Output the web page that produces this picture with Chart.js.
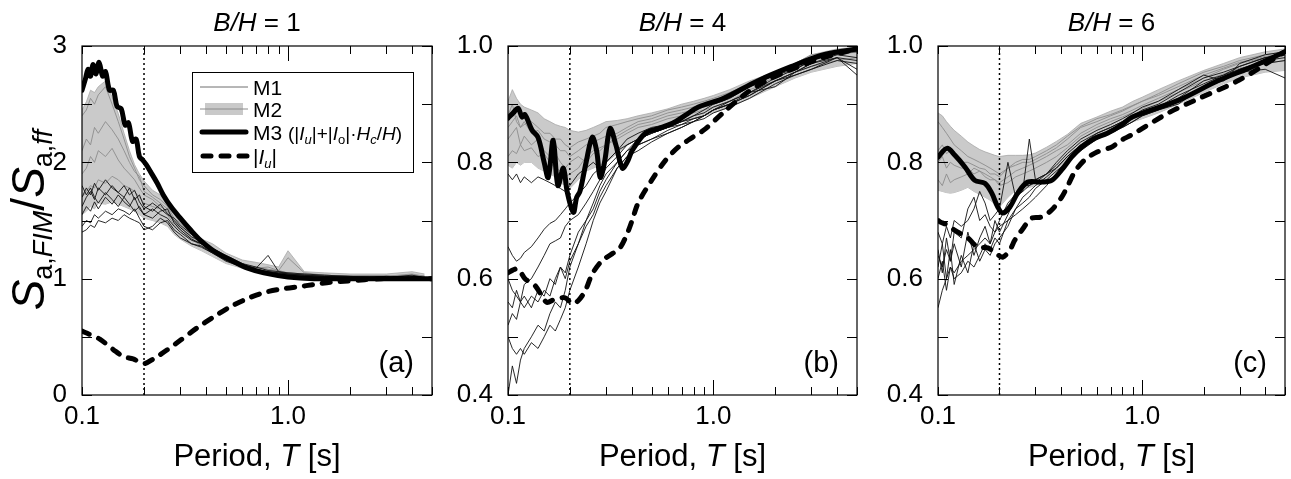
<!DOCTYPE html>
<html>
<head>
<meta charset="utf-8">
<title>Sa,FIM / Sa,ff vs period</title>
<script src="https://cdn.jsdelivr.net/npm/chart.js@4.4.0/dist/chart.umd.min.js"></script>
<style>
  html, body { margin: 0; padding: 0; background: #fff; }
  #wrap { position: relative; width: 1291px; height: 479px; overflow: hidden; }
  canvas { position: absolute; top: 0; }
</style>
</head>
<body>
<div id="wrap">
  <canvas id="chartA" width="455" height="479" style="left:0px"></canvas>
  <canvas id="chartB" width="430" height="479" style="left:455px"></canvas>
  <canvas id="chartC" width="406" height="479" style="left:885px"></canvas>
</div>
<script>
// ---- shared ----
const FONT = '"Liberation Sans", Arial, sans-serif';
const xTickValues = [0.1, 0.2, 0.3, 0.4, 0.5, 0.6, 0.7, 0.8, 0.9, 1, 2, 3, 4, 5];
const markPeriod = 0.2;
const yTicksA = [0, 0.5, 1, 1.5, 2, 2.5, 3];
const yTicksBC = [0.4, 0.5, 0.6, 0.7, 0.8, 0.9, 1.0];

// period grid used by the M1 / M2 records
const periodsA = [0.100,0.105,0.110,0.115,0.120,0.130,0.140,0.150,0.160,0.170, 0.180,0.190,0.200,0.220,0.240,0.260,0.280,0.300,0.340,0.380, 0.430,0.500,0.600,0.700,0.800,0.900,1.000,1.200,1.500,2.000, 2.500,3.000,4.000,4.600];
const periodsBC = [0.100,0.105,0.110,0.115,0.120,0.130,0.140,0.150,0.160,0.170, 0.180,0.190,0.200,0.220,0.240,0.260,0.280,0.300,0.340,0.380, 0.430,0.500,0.600,0.700,0.800,0.900,1.000,1.200,1.500,2.000, 2.500,3.000,4.000,5.000];

// ---- panel (a) B/H = 1 ----
const m1A = [
  [1.45,1.50,1.48,1.55,1.52,1.58,1.55,1.60,1.58,1.55, 1.60,1.52,1.45,1.42,1.48,1.50,1.42,1.38,1.30,1.28, 1.22,1.16,1.10,1.07,1.05,1.04,1.03,1.02,1.01,1.01, 1.00,1.01,1.01,1.00],
  [1.55,1.62,1.58,1.66,1.60,1.70,1.64,1.72,1.66,1.62, 1.70,1.60,1.55,1.52,1.58,1.60,1.48,1.42,1.34,1.30, 1.24,1.18,1.12,1.09,1.20,1.06,1.04,1.03,1.02,1.01, 1.01,1.01,1.02,1.00],
  [1.62,1.70,1.75,1.68,1.78,1.72,1.80,1.74,1.70,1.78, 1.68,1.72,1.62,1.58,1.64,1.56,1.50,1.44,1.36,1.32, 1.25,1.18,1.12,1.08,1.06,1.05,1.04,1.03,1.02,1.02, 1.01,1.01,1.03,1.01],
  [1.70,1.78,1.72,1.82,1.76,1.85,1.78,1.74,1.80,1.72, 1.76,1.66,1.60,1.65,1.60,1.55,1.52,1.46,1.38,1.33, 1.26,1.20,1.13,1.10,1.07,1.06,1.05,1.04,1.03,1.02, 1.02,1.02,1.01,1.01],
  [1.40,1.42,1.46,1.44,1.50,1.48,1.52,1.50,1.55,1.52, 1.50,1.48,1.42,1.45,1.52,1.48,1.40,1.35,1.30,1.27, 1.22,1.15,1.10,1.06,1.05,1.04,1.03,1.02,1.01,1.01, 1.00,1.00,1.01,1.00],
  [1.80,1.72,1.78,1.70,1.65,1.74,1.68,1.62,1.70,1.64, 1.58,1.62,1.55,1.60,1.55,1.52,1.45,1.40,1.33,1.30, 1.24,1.17,1.11,1.08,1.06,1.05,1.04,1.03,1.02,1.01, 1.01,1.02,1.01,1.00]
];
const m2A = [
  [2.40,2.45,2.55,2.50,2.58,2.65,2.50,2.35,2.20,2.05, 1.95,1.85,1.80,1.72,1.68,1.62,1.52,1.48,1.38,1.30, 1.24,1.18,1.12,1.10,1.08,1.06,1.05,1.04,1.03,1.02, 1.02,1.02,1.03,1.02],
  [2.10,2.20,2.15,2.30,2.25,2.35,2.28,2.20,2.10,2.00, 1.92,1.88,1.75,1.70,1.65,1.60,1.50,1.45,1.36,1.30, 1.25,1.17,1.12,1.09,1.08,1.07,1.05,1.04,1.03,1.02, 1.02,1.02,1.03,1.02],
  [1.90,1.95,2.05,2.00,2.10,2.05,2.12,2.02,1.95,1.90, 1.85,1.78,1.72,1.68,1.62,1.58,1.48,1.44,1.35,1.28, 1.24,1.16,1.11,1.09,1.10,1.07,1.18,1.05,1.03,1.02, 1.02,1.02,1.04,1.02],
  [1.70,1.75,1.80,1.78,1.85,1.82,1.88,1.85,1.80,1.78, 1.75,1.70,1.65,1.62,1.60,1.55,1.46,1.42,1.34,1.28, 1.22,1.16,1.11,1.08,1.07,1.06,1.05,1.04,1.03,1.02, 1.02,1.02,1.03,1.02]
];
const m2HighA = [2.45,2.52,2.62,2.60,2.65,2.70,2.56,2.42,2.25,2.10, 1.98,1.90,1.84,1.76,1.72,1.66,1.58,1.52,1.42,1.34, 1.30,1.22,1.16,1.14,1.12,1.10,1.24,1.06,1.05,1.04, 1.04,1.04,1.06,1.04];
const m2LowA = [1.55,1.58,1.62,1.60,1.65,1.64,1.66,1.64,1.62,1.60, 1.58,1.55,1.52,1.50,1.48,1.45,1.38,1.34,1.28,1.24, 1.19,1.13,1.09,1.06,1.05,1.04,1.03,1.02,1.01,1.01, 1.00,1.00,1.01,1.00];
const m3PeriodsA = [0.100,0.104,0.107,0.110,0.113,0.117,0.121,0.126,0.130,0.136,0.142,0.148,0.155,0.162,0.168,0.176,0.183,0.190,0.197,0.205,0.215,0.232,0.248,0.270,0.300,0.336,0.376,0.435,0.527,0.637,0.763,1.000,1.340,2.000,5.000];
const m3A = [2.62,2.72,2.80,2.74,2.84,2.76,2.86,2.74,2.78,2.62,2.62,2.48,2.46,2.32,2.34,2.18,2.20,2.05,2.02,1.98,1.92,1.82,1.72,1.62,1.52,1.42,1.33,1.24,1.16,1.09,1.05,1.015,1.0,1.0,1.0];
const iuPeriodsA = [0.100,0.106,0.122,0.142,0.159,0.177,0.200,0.222,0.260,0.300,0.364,0.435,0.527,0.637,0.763,0.922,1.120,1.340,1.620,1.960,2.840,5.000];
const iuA = [0.55,0.53,0.48,0.39,0.33,0.31,0.27,0.31,0.39,0.47,0.58,0.67,0.76,0.83,0.88,0.91,0.93,0.95,0.97,0.98,1.0,1.0];

// ---- panel (b) B/H = 4 ----
const m1B = [
  [0.78,0.77,0.78,0.765,0.775,0.765,0.775,0.77,0.765,0.76, 0.755,0.75,0.76,0.78,0.79,0.80,0.79,0.80,0.82,0.83, 0.84,0.85,0.86,0.87,0.88,0.89,0.90,0.91,0.93,0.95, 0.96,0.975,0.99,0.995],
  [0.655,0.64,0.63,0.635,0.645,0.655,0.67,0.685,0.695,0.70, 0.71,0.72,0.73,0.745,0.76,0.78,0.79,0.80,0.82,0.84, 0.85,0.86,0.865,0.87,0.88,0.885,0.895,0.905,0.92,0.945, 0.96,0.975,0.99,0.99],
  [0.60,0.58,0.57,0.56,0.59,0.60,0.62,0.64,0.66,0.665, 0.67,0.69,0.70,0.71,0.73,0.75,0.77,0.79,0.81,0.83, 0.84,0.85,0.86,0.87,0.875,0.88,0.89,0.905,0.92,0.93, 0.955,0.97,0.98,0.96],
  [0.52,0.54,0.53,0.56,0.55,0.57,0.56,0.58,0.57,0.60, 0.62,0.61,0.64,0.68,0.70,0.72,0.75,0.77,0.80,0.82, 0.83,0.84,0.85,0.86,0.87,0.88,0.89,0.90,0.915,0.94, 0.955,0.965,0.98,0.975],
  [0.40,0.45,0.42,0.46,0.48,0.50,0.52,0.51,0.54,0.56, 0.55,0.58,0.62,0.66,0.69,0.71,0.74,0.76,0.79,0.81, 0.82,0.835,0.85,0.86,0.87,0.875,0.885,0.895,0.91,0.935, 0.95,0.96,0.975,0.97],
  [0.50,0.48,0.47,0.48,0.47,0.49,0.48,0.50,0.52,0.51, 0.53,0.55,0.58,0.62,0.66,0.70,0.73,0.75,0.79,0.81, 0.83,0.84,0.855,0.865,0.87,0.88,0.89,0.90,0.915,0.94, 0.95,0.96,0.98,0.95],
  [0.56,0.55,0.58,0.56,0.57,0.55,0.58,0.57,0.60,0.59, 0.62,0.60,0.63,0.66,0.70,0.73,0.76,0.78,0.80,0.82, 0.84,0.85,0.86,0.865,0.875,0.88,0.89,0.90,0.92,0.94, 0.955,0.97,0.985,0.98]
];
const m2B = [
  [0.88,0.90,0.87,0.86,0.87,0.85,0.855,0.84,0.835,0.83, 0.82,0.82,0.81,0.82,0.83,0.835,0.84,0.845,0.85,0.86, 0.87,0.875,0.885,0.89,0.895,0.90,0.905,0.915,0.935,0.95, 0.965,0.98,0.99,0.995],
  [0.84,0.85,0.86,0.83,0.845,0.83,0.84,0.82,0.81,0.815, 0.80,0.79,0.80,0.81,0.80,0.815,0.82,0.83,0.845,0.855, 0.865,0.87,0.88,0.885,0.89,0.895,0.90,0.91,0.93,0.945, 0.96,0.975,0.985,0.99],
  [0.81,0.82,0.815,0.83,0.82,0.825,0.81,0.815,0.80,0.79, 0.785,0.775,0.78,0.79,0.81,0.82,0.825,0.83,0.84,0.85, 0.86,0.865,0.875,0.88,0.885,0.89,0.895,0.905,0.925,0.94, 0.955,0.965,0.975,0.98],
  [0.86,0.87,0.88,0.86,0.865,0.87,0.86,0.85,0.85,0.84, 0.84,0.83,0.825,0.835,0.84,0.845,0.85,0.86,0.865,0.87, 0.875,0.88,0.89,0.895,0.90,0.905,0.91,0.92,0.935,0.955, 0.97,0.985,0.99,0.99]
];
const m2HighB = [0.905,0.925,0.91,0.90,0.895,0.89,0.885,0.875,0.87,0.865, 0.862,0.86,0.855,0.852,0.855,0.86,0.865,0.87,0.872,0.875, 0.88,0.885,0.892,0.90,0.905,0.91,0.915,0.925,0.94,0.955, 0.97,0.985,0.995,0.998];
const m2LowB = [0.795,0.79,0.80,0.795,0.80,0.80,0.79,0.785,0.78,0.775, 0.765,0.76,0.755,0.77,0.785,0.79,0.795,0.80,0.815,0.83, 0.84,0.85,0.86,0.87,0.875,0.88,0.885,0.895,0.91,0.93, 0.945,0.955,0.965,0.97];
const m3PeriodsB = [0.100,0.106,0.112,0.117,0.121,0.131,0.140,0.150,0.157,0.166,0.175,0.186,0.194,0.208,0.216,0.224,0.240,0.257,0.270,0.281,0.295,0.314,0.335,0.360,0.380,0.402,0.466,0.539,0.632,0.731,0.845,1.120,1.640,2.370,3.440,5.000];
const m3B = [0.876,0.885,0.893,0.878,0.882,0.855,0.843,0.800,0.774,0.838, 0.760,0.790,0.750,0.714,0.740,0.750,0.800,0.843,0.820,0.774, 0.800,0.858,0.830,0.790,0.800,0.820,0.850,0.858,0.867,0.881, 0.895,0.910,0.940,0.964,0.985,0.995];
const iuPeriodsB = [0.100,0.106,0.112,0.121,0.1355,0.148,0.155,0.1695,0.190,0.205,0.2195,0.2375,0.257,0.287,0.322,0.351,0.381,0.402,0.430,0.500,0.583,0.674,0.791,0.910,1.120,1.460,1.830,2.370,3.440,5.000];
const iuB = [0.610,0.615,0.617,0.600,0.588,0.567,0.559,0.565,0.567,0.557, 0.562,0.579,0.608,0.631,0.643,0.653,0.678,0.700,0.730,0.769, 0.803,0.826,0.843,0.857,0.886,0.920,0.941,0.959,0.980,0.995];

// ---- panel (c) B/H = 6 ----
const m1C = [
  [0.55,0.58,0.60,0.62,0.61,0.63,0.64,0.65,0.66,0.67, 0.66,0.68,0.69,0.70,0.71,0.72,0.73,0.74,0.76,0.78, 0.80,0.82,0.84,0.85,0.86,0.87,0.88,0.89,0.90,0.93, 0.94,0.955,0.96,0.945],
  [0.62,0.66,0.60,0.65,0.59,0.64,0.61,0.66,0.63,0.65, 0.64,0.66,0.67,0.69,0.72,0.73,0.74,0.755,0.77,0.785, 0.80,0.825,0.845,0.855,0.865,0.875,0.885,0.895,0.91,0.94, 0.95,0.96,0.975,0.98],
  [0.65,0.61,0.67,0.63,0.66,0.62,0.68,0.64,0.67,0.69, 0.66,0.70,0.68,0.71,0.74,0.76,0.76,0.77,0.78,0.79, 0.81,0.83,0.85,0.86,0.87,0.88,0.89,0.90,0.92,0.945, 0.955,0.965,0.98,0.985],
  [0.68,0.66,0.69,0.67,0.70,0.69,0.70,0.72,0.75,0.73, 0.70,0.71,0.72,0.80,0.74,0.75,0.84,0.77,0.78,0.80, 0.82,0.84,0.855,0.865,0.875,0.885,0.895,0.905,0.925,0.95, 0.94,0.97,0.985,0.99],
  [0.60,0.63,0.58,0.62,0.60,0.61,0.63,0.62,0.64,0.66, 0.65,0.67,0.66,0.70,0.72,0.74,0.75,0.76,0.775,0.79, 0.81,0.83,0.845,0.855,0.86,0.87,0.88,0.89,0.905,0.93, 0.945,0.96,0.97,0.975],
  [0.64,0.62,0.65,0.63,0.68,0.67,0.72,0.74,0.70,0.71, 0.69,0.68,0.70,0.73,0.745,0.75,0.76,0.765,0.78,0.795, 0.815,0.835,0.85,0.86,0.87,0.88,0.885,0.895,0.915,0.935, 0.95,0.965,0.98,0.985]
];
const m2C = [
  [0.87,0.86,0.85,0.84,0.83,0.82,0.81,0.805,0.80,0.795, 0.79,0.785,0.78,0.79,0.795,0.80,0.80,0.805,0.815,0.825, 0.84,0.86,0.87,0.88,0.888,0.897,0.905,0.918,0.935,0.955, 0.965,0.975,0.985,0.99],
  [0.80,0.81,0.79,0.80,0.795,0.79,0.79,0.78,0.785,0.775, 0.77,0.77,0.765,0.775,0.785,0.79,0.795,0.80,0.81,0.82, 0.83,0.85,0.865,0.875,0.882,0.89,0.898,0.91,0.925,0.945, 0.96,0.97,0.98,0.985],
  [0.77,0.76,0.78,0.765,0.77,0.775,0.78,0.79,0.785,0.78, 0.775,0.77,0.76,0.765,0.775,0.78,0.785,0.79,0.80,0.81, 0.825,0.845,0.86,0.87,0.878,0.886,0.893,0.905,0.92,0.94, 0.952,0.962,0.97,0.975],
  [0.82,0.83,0.815,0.82,0.81,0.80,0.80,0.795,0.79,0.788, 0.78,0.78,0.775,0.79,0.80,0.805,0.805,0.81,0.82,0.83, 0.845,0.862,0.875,0.882,0.89,0.898,0.905,0.915,0.93,0.95, 0.962,0.972,0.982,0.987]
];
const m2HighC = [0.885,0.88,0.87,0.862,0.855,0.845,0.835,0.828,0.822,0.818, 0.815,0.812,0.81,0.812,0.812,0.812,0.813,0.816,0.826,0.836, 0.848,0.867,0.878,0.888,0.895,0.905,0.912,0.925,0.94,0.958, 0.97,0.98,0.99,0.995];
const m2LowC = [0.752,0.75,0.748,0.747,0.748,0.752,0.757,0.75,0.745,0.74, 0.735,0.728,0.723,0.74,0.752,0.755,0.757,0.76,0.769,0.785, 0.80,0.822,0.84,0.852,0.862,0.87,0.875,0.885,0.90,0.92, 0.935,0.945,0.955,0.958];
const m3PeriodsC = [0.100,0.1106,0.121,0.1355,0.1515,0.1695,0.1834,0.1962,0.2075,0.2246,0.2455,0.275,0.3216,0.360,0.403,0.4506,0.504,0.5835,0.675,0.790,0.8935,1.510,2.370,3.330,5.000];
const m3C = [0.809,0.824,0.812,0.792,0.769,0.764,0.747,0.723,0.713,0.723,0.747,0.766,0.766,0.769,0.787,0.809,0.826,0.841,0.850,0.864,0.878,0.907,0.941,0.962,0.990];
const iuPeriodsC = [0.100,0.1046,0.112,0.121,0.140,0.1566,0.1753,0.1962,0.2075,0.2246,0.2375,0.2568,0.2873,0.3216,0.360,0.403,0.431,0.466,0.522,0.604,0.706,0.790,0.884,1.360,1.900,2.970,5.000];
const iuC = [0.700,0.696,0.692,0.683,0.670,0.654,0.653,0.641,0.637,0.649,0.666,0.683,0.704,0.706,0.718,0.740,0.759,0.783,0.804,0.818,0.826,0.838,0.847,0.886,0.910,0.941,0.990];

// ---- helpers ----
const zip = (xs, ys) => xs.map((x, i) => ({ x: x, y: ys[i] }));

function font(size, italic) {
    return (italic ? 'italic ' : '') + size + 'px ' + FONT;
}

// draws a row of text pieces with different fonts / offsets
function drawRuns(ctx, x, y, runs, align) {
    let total = 0;
    runs.forEach(r => { ctx.font = font(r.size, r.it); total += ctx.measureText(r.t).width; });
    let cx = align === 'center' ? x - total / 2 : (align === 'right' ? x - total : x);
    ctx.textAlign = 'left';
    ctx.textBaseline = 'alphabetic';
    runs.forEach(r => {
        ctx.font = font(r.size, r.it);
        ctx.fillText(r.t, cx, y + (r.dy || 0));
        cx += ctx.measureText(r.t).width;
    });
}

function lineSet(data, style) {
    return Object.assign({
        data: data,
        pointRadius: 0,
        fill: false,
        tension: 0,
        borderColor: '#000',
        borderWidth: 1
    }, style);
}

function drawLegend(ctx) {
    const left = 192, top = 72, w = 221, h = 100;
    ctx.fillStyle = '#fff';
    ctx.fillRect(left, top, w, h);
    ctx.strokeStyle = '#000';
    ctx.lineWidth = 1;
    ctx.strokeRect(left + 0.5, top + 0.5, w, h);

    const x0 = 200, x1 = 248, tx = 253;
    const rows = [87, 109, 132, 156];

    // M1
    ctx.strokeStyle = '#6e6e6e'; ctx.lineWidth = 1;
    ctx.beginPath(); ctx.moveTo(x0, rows[0]); ctx.lineTo(x1, rows[0]); ctx.stroke();
    // M2
    ctx.fillStyle = '#c9c9c9';
    ctx.fillRect(205, rows[1] - 6, 38, 12);
    ctx.strokeStyle = '#8a8a8a';
    ctx.beginPath(); ctx.moveTo(x0, rows[1]); ctx.lineTo(x1, rows[1]); ctx.stroke();
    // M3
    ctx.strokeStyle = '#000'; ctx.lineWidth = 5; ctx.lineCap = 'round';
    ctx.beginPath(); ctx.moveTo(x0 + 2, rows[2]); ctx.lineTo(x1 - 2, rows[2]); ctx.stroke();
    // |Iu|
    ctx.setLineDash([8, 10]);
    ctx.beginPath(); ctx.moveTo(x0 + 3, rows[3]); ctx.lineTo(x1, rows[3]); ctx.stroke();
    ctx.setLineDash([]);
    ctx.lineCap = 'butt';

    ctx.fillStyle = '#000';
    const s = 21, p = 19, sub = 13;
    drawRuns(ctx, tx, rows[0] + 8, [{ t: 'M1', size: s }], 'left');
    drawRuns(ctx, tx, rows[1] + 8, [{ t: 'M2', size: s }], 'left');
    drawRuns(ctx, tx, rows[2] + 8, [
        { t: 'M3 ', size: s }, { t: '(|', size: p }, { t: 'I', size: p, it: true },
        { t: 'u', size: sub, it: true, dy: 4 }, { t: '|+|', size: p }, { t: 'I', size: p, it: true },
        { t: 'o', size: sub, dy: 4 }, { t: '|\u00b7', size: p }, { t: 'H', size: p, it: true },
        { t: 'c', size: sub, it: true, dy: 4 }, { t: '/', size: p }, { t: 'H', size: p, it: true },
        { t: ')', size: p }
    ], 'left');
    drawRuns(ctx, tx, rows[3] + 8, [
        { t: '|', size: s }, { t: 'I', size: s, it: true }, { t: 'u', size: sub, it: true, dy: 4 }, { t: '|', size: s }
    ], 'left');
}

function drawYTitle(ctx) {
    ctx.save();
    ctx.translate(30, 220);
    ctx.rotate(-Math.PI / 2);
    ctx.fillStyle = '#000';
    drawRuns(ctx, 0, 14, [
        { t: 'S', size: 46, it: true }, { t: 'a,', size: 27, dy: 8 }, { t: 'FIM', size: 27, it: true, dy: 8 },
        { t: '/', size: 46 },
        { t: 'S', size: 46, it: true }, { t: 'a,', size: 27, dy: 8 }, { t: 'ff', size: 27, it: true, dy: 8 }
    ], 'center');
    ctx.restore();
}

function buildPanel(panel) {
    const datasets = [
        lineSet(zip(panel.m3T, panel.m3), { borderWidth: 5, tension: 0.35, borderCapStyle: 'round', borderJoinStyle: 'round' }),
        lineSet(zip(panel.iuT, panel.iu), { borderWidth: 5, tension: 0.3, borderDash: [8, 10], borderCapStyle: 'round' }),
        lineSet([{ x: markPeriod, y: panel.yMin }, { x: markPeriod, y: panel.yMax }], { borderWidth: 1.5, borderDash: [2, 3] })
    ];
    panel.m1.forEach(v => datasets.push(lineSet(zip(panel.grid, v), { borderColor: '#111', borderWidth: 0.9 })));
    panel.m2.forEach(v => datasets.push(lineSet(zip(panel.grid, v), { borderColor: '#8c8c8c', borderWidth: 0.9 })));
    datasets.push(lineSet(zip(panel.grid, panel.bandHigh), { borderColor: '#a8a8a8', borderWidth: 0.8, fill: '+1', backgroundColor: '#cacaca' }));
    datasets.push(lineSet(zip(panel.grid, panel.bandLow), { borderColor: '#a8a8a8', borderWidth: 0.8 }));

    const deco = {
        id: 'deco' + panel.tag,
        afterDraw(chart) {
            const ctx = chart.ctx;
            const a = chart.chartArea;
            const xs = chart.scales.x, ys = chart.scales.y;
            ctx.save();
            ctx.strokeStyle = '#000';
            ctx.lineWidth = 1.2;
            ctx.strokeRect(a.left, a.top, a.right - a.left, a.bottom - a.top);
            ctx.beginPath();
            xTickValues.forEach(v => {
                const px = Math.round(xs.getPixelForValue(v)) + 0.5;
                const len = v === 1 ? 15 : 8;
                ctx.moveTo(px, a.bottom); ctx.lineTo(px, a.bottom - len);
                ctx.moveTo(px, a.top); ctx.lineTo(px, a.top + len);
            });
            panel.yTicks.forEach(v => {
                const py = Math.round(ys.getPixelForValue(v)) + 0.5;
                ctx.moveTo(a.left, py); ctx.lineTo(a.left + 10, py);
                ctx.moveTo(a.right, py); ctx.lineTo(a.right - 10, py);
            });
            ctx.lineWidth = 1;
            ctx.stroke();

            ctx.fillStyle = '#000';
            const cx = (a.left + a.right) / 2;
            drawRuns(ctx, cx, 31, [{ t: 'B/H', size: 26, it: true }, { t: ' = ' + panel.ratio, size: 26 }], 'center');
            drawRuns(ctx, cx, 466, [{ t: 'Period, ', size: 31 }, { t: 'T', size: 31, it: true }, { t: ' [s]', size: 31 }], 'center');
            drawRuns(ctx, a.right - 18, a.bottom - 23, [{ t: panel.tag, size: 29 }], 'right');

            if (panel.legend) {
                drawLegend(ctx);
                drawYTitle(ctx);
            }
            ctx.restore();
        }
    };

    return new Chart(document.getElementById(panel.id), {
        type: 'line',
        data: { datasets: datasets },
        options: {
            responsive: false,
            animation: false,
            devicePixelRatio: 1,
            layout: { padding: { top: 46, right: panel.padRight, bottom: 0, left: 0 } },
            plugins: { legend: { display: false }, tooltip: { enabled: false } },
            scales: {
                x: {
                    type: 'logarithmic',
                    min: 0.1,
                    max: 5,
                    grid: { display: false, drawTicks: false },
                    border: { display: false },
                    afterBuildTicks: s => { s.ticks = xTickValues.map(v => ({ value: v })); },
                    afterFit: s => { s.height = 84; },
                    ticks: {
                        autoSkip: false,
                        maxRotation: 0,
                        padding: 6,
                        color: '#000',
                        font: { family: FONT, size: 26 },
                        callback: v => (Math.abs(v - 0.1) < 1e-9 ? '0.1' : (Math.abs(v - 1) < 1e-9 ? '1.0' : ''))
                    }
                },
                y: {
                    type: 'linear',
                    min: panel.yMin,
                    max: panel.yMax,
                    grid: { display: false, drawTicks: false },
                    border: { display: false },
                    afterBuildTicks: s => { s.ticks = panel.yTicks.map(v => ({ value: v })); },
                    afterFit: s => { s.width = panel.left; },
                    ticks: {
                        padding: 15,
                        color: '#000',
                        font: { family: FONT, size: 26 },
                        callback: v => panel.yLabel(v)
                    }
                }
            }
        },
        plugins: [deco]
    });
}

const labelBC = v => ([0.4, 0.6, 0.8, 1.0].some(l => Math.abs(l - v) < 1e-9) ? v.toFixed(1) : '');

document.addEventListener("DOMContentLoaded", () => {
    buildPanel({
        id: 'chartA', tag: '(a)', ratio: '1', legend: true,
        grid: periodsA, m1: m1A, m2: m2A, bandHigh: m2HighA, bandLow: m2LowA,
        m3T: m3PeriodsA, m3: m3A, iuT: iuPeriodsA, iu: iuA,
        yMin: 0, yMax: 3, yTicks: yTicksA,
        yLabel: v => (Number.isInteger(v) ? String(v) : ''),
        left: 82, padRight: 23
    });
    buildPanel({
        id: 'chartB', tag: '(b)', ratio: '4',
        grid: periodsBC, m1: m1B, m2: m2B, bandHigh: m2HighB, bandLow: m2LowB,
        m3T: m3PeriodsB, m3: m3B, iuT: iuPeriodsB, iu: iuB,
        yMin: 0.4, yMax: 1.0, yTicks: yTicksBC, yLabel: labelBC,
        left: 53, padRight: 28
    });
    buildPanel({
        id: 'chartC', tag: '(c)', ratio: '6',
        grid: periodsBC, m1: m1C, m2: m2C, bandHigh: m2HighC, bandLow: m2LowC,
        m3T: m3PeriodsC, m3: m3C, iuT: iuPeriodsC, iu: iuC,
        yMin: 0.4, yMax: 1.0, yTicks: yTicksBC, yLabel: labelBC,
        left: 53, padRight: 4
    });
});
</script>
</body>
</html>
